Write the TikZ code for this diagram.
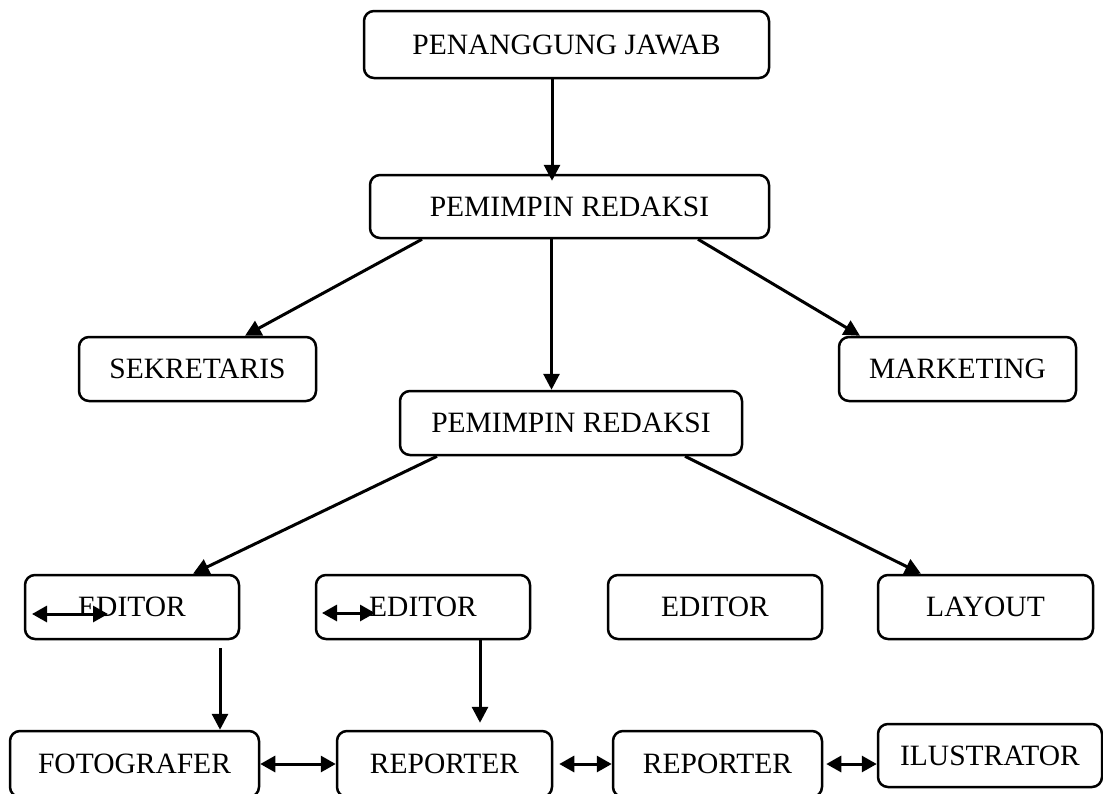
\documentclass[tikz,border=0pt]{standalone}
\usepackage{fontspec}
\setmainfont{Liberation Serif}
\usetikzlibrary{arrows.meta}
\begin{document}
\begin{tikzpicture}[x=1pt,y=-1pt,
  box/.style={draw, line width=2.5pt, rounded corners=10pt, inner sep=0pt,
    font=\fontsize{29.5}{34}\selectfont},
  arr/.style={line width=3pt, -{Triangle[length=16pt,width=16pt]}},
  darr/.style={line width=3pt,
    {Triangle[length=15pt,width=16pt]}-{Triangle[length=15pt,width=16pt]}}]
\useasboundingbox (0,0) rectangle (1103,793);

% boxes
\node[box, minimum width=405pt, minimum height=67pt] (pj)   at (566.5,44.5) {PENANGGUNG JAWAB};
\node[box, minimum width=399pt, minimum height=63pt] (pr1)  at (569.5,206.5) {PEMIMPIN REDAKSI};
\node[box, minimum width=237pt, minimum height=64pt] (sek)  at (197.5,369) {SEKRETARIS};
\node[box, minimum width=237pt, minimum height=64pt] (mkt)  at (957.5,369) {MARKETING};
\node[box, minimum width=342pt, minimum height=64pt] (pr2)  at (571,423) {PEMIMPIN REDAKSI};
\node[box, minimum width=214pt, minimum height=64pt] (e1)   at (132,607) {EDITOR};
\node[box, minimum width=214pt, minimum height=64pt] (e2)   at (423,607) {EDITOR};
\node[box, minimum width=214pt, minimum height=64pt] (e3)   at (715,607) {EDITOR};
\node[box, minimum width=215pt, minimum height=64pt] (lay)  at (985.5,607) {LAYOUT};
\node[box, minimum width=249pt, minimum height=66pt] (foto) at (134.5,764) {FOTOGRAFER};
\node[box, minimum width=215pt, minimum height=66pt] (rep1) at (444.5,764) {REPORTER};
\node[box, minimum width=209pt, minimum height=66pt] (rep2) at (717.5,764) {REPORTER};
\node[box, minimum width=224pt, minimum height=63pt] (ilu)  at (990,755.5) {ILUSTRATOR};

% short double arrows inside the first two editor boxes
\coordinate (e1a) at (32,614);
\coordinate (e1b) at (108,614);
\coordinate (e2a) at (322,613);
\coordinate (e2b) at (375,613);

% hierarchy connectors
\draw[arr] ([xshift=-14.5pt]pj.south) -- ([xshift=-17.5pt,yshift=-7pt]pr1.north);
\draw[arr] ([xshift=-147.5pt]pr1.south) -- ([xshift=47.5pt]sek.north);
\draw[arr] ([xshift=-18pt]pr1.south) -- ([xshift=-19.5pt]pr2.north);
\draw[arr] ([xshift=128.5pt]pr1.south) -- ([xshift=-97.5pt]mkt.north);
\draw[arr] ([xshift=-134pt]pr2.south) -- ([xshift=61pt]e1.north);
\draw[arr] ([xshift=114pt]pr2.south) -- ([xshift=-64.5pt]lay.north);
\draw[arr] ([xshift=88pt,yshift=-8pt]e1.south) -- ([xshift=85.5pt]foto.north);
\draw[arr] ([xshift=57pt]e2.south) -- ([xshift=35.5pt,yshift=7pt]rep1.north);

% two-way links
\draw[darr] (e1a) -- (e1b);
\draw[darr] (e2a) -- (e2b);
\draw[darr] (foto.east) -- (rep1.west);
\draw[darr, shorten <=6pt] (rep1.east) -- (rep2.west);
\draw[darr, shorten <=3pt] (rep2.east) -- (rep2.east -| ilu.west);
\end{tikzpicture}
\end{document}
